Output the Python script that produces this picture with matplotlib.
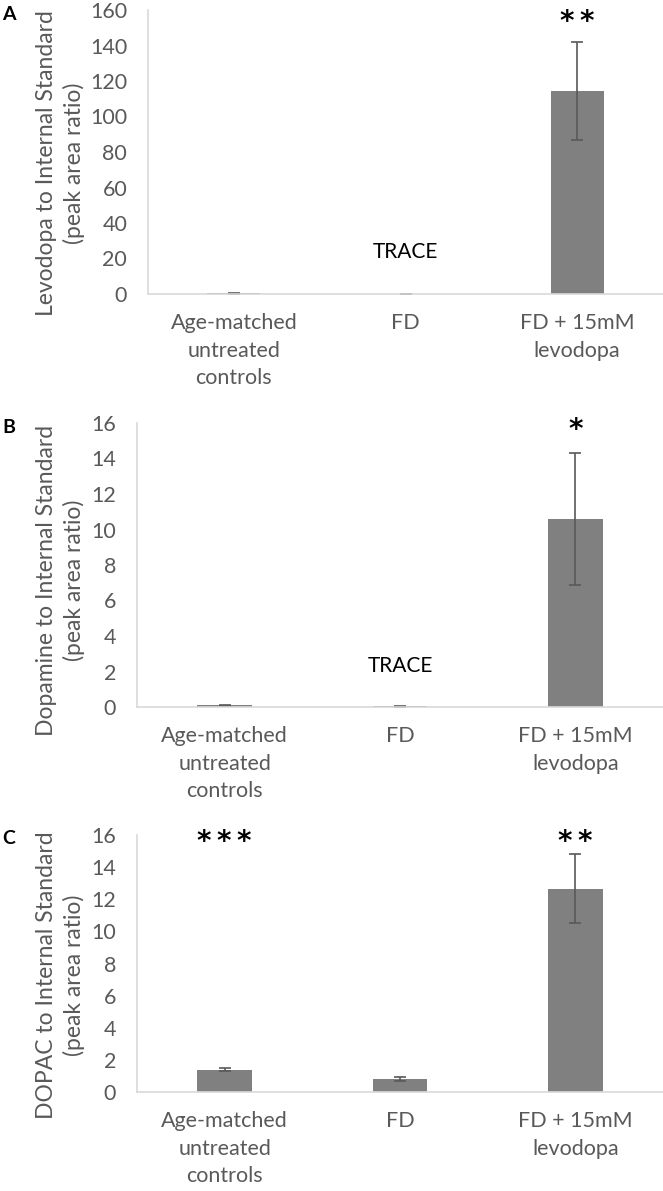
import matplotlib
matplotlib.use("Agg")
import matplotlib.pyplot as plt

plt.rcParams['font.family'] = ['Lato', 'DejaVu Sans']

categories = ['Age-matched\nuntreated\ncontrols', 'FD', 'FD + 15mM\nlevodopa']

levodopa = [0.4, 0.0, 114.5]
levodopa_err = [0.4, 0.0, 27.5]
dopamine = [0.1, 0.03, 10.6]
dopamine_err = [0.02, 0.03, 3.7]
dopac = [1.4, 0.8, 12.65]
dopac_err = [0.08, 0.12, 2.15]

ylabels = ['Levodopa to Internal Standard\n(peak area ratio)',
           'Dopamine to Internal Standard\n(peak area ratio)',
           'DOPAC to Internal Standard\n(peak area ratio)']
ymax = [160, 16, 16]
ystep = [20, 2, 2]
stars = [{2: '**'}, {2: '*'}, {0: '***', 2: '**'}]
star_y = [0.930, 0.947, 0.942]  # baseline, axes fraction
trace_y = [23.7, 2.3, None]
panel = ['A', 'B', 'C']

W, H = 663, 1191
# axes boxes in pixels: left, top, bottom (y=0 line)
boxes = [(148, 10, 294), (137, 423, 707), (137, 835, 1092)]
label_y = [0.46, 0.447, 0.455]

fig = plt.figure(figsize=(W / 100, H / 100), dpi=100)
grey = '#595959'
x = range(len(categories))

for i, (vals, errs) in enumerate([(levodopa, levodopa_err), (dopamine, dopamine_err), (dopac, dopac_err)]):
    left, top, bot = boxes[i]
    ax = fig.add_axes([left / W, 1 - bot / H, (W - left) / W, (bot - top) / H])
    ax.bar(x, vals, width=0.31, color='#808080')
    ax.errorbar(x, vals, yerr=errs, fmt='none', ecolor=grey, elinewidth=1.2,
                capsize=4, capthick=1.2)
    ax.set_xlim(-0.5, 2.5)
    ax.set_ylim(0, ymax[i])
    ax.set_yticks(range(0, ymax[i] + 1, ystep[i]))
    ax.set_xticks(list(x))
    ax.set_xticklabels(categories, linespacing=1.45)
    ax.tick_params(axis='both', length=0, colors=grey, labelsize=15.5)
    ax.tick_params(axis='x', pad=14, labelsize=15.5)
    ax.tick_params(axis='y', pad=15)
    for s in ['top', 'right']:
        ax.spines[s].set_visible(False)
    for s in ['left', 'bottom']:
        ax.spines[s].set_color('#d9d9d9')
        ax.spines[s].set_linewidth(1.2)
    ax.set_ylabel(ylabels[i], fontsize=16.5, color=grey, linespacing=1.3)
    ax.yaxis.set_label_coords((85 - left) / (W - left), label_y[i])
    for k, s in stars[i].items():
        ax.text(k, star_y[i], '\u2009'.join(s), transform=ax.get_xaxis_transform(),
                ha='center', va='baseline', fontsize=20, fontweight='bold',
                family='DejaVu Sans', color='black', clip_on=False)
    if trace_y[i] is not None:
        ax.text(1, trace_y[i], 'TRACE', ha='center', va='center', fontsize=15,
                color='black')
    fig.text(2 / W, 1 - (top + 4) / H, panel[i], fontsize=14, fontweight='bold',
             ha='left', va='center')

fig.savefig('out.png', dpi=100)
